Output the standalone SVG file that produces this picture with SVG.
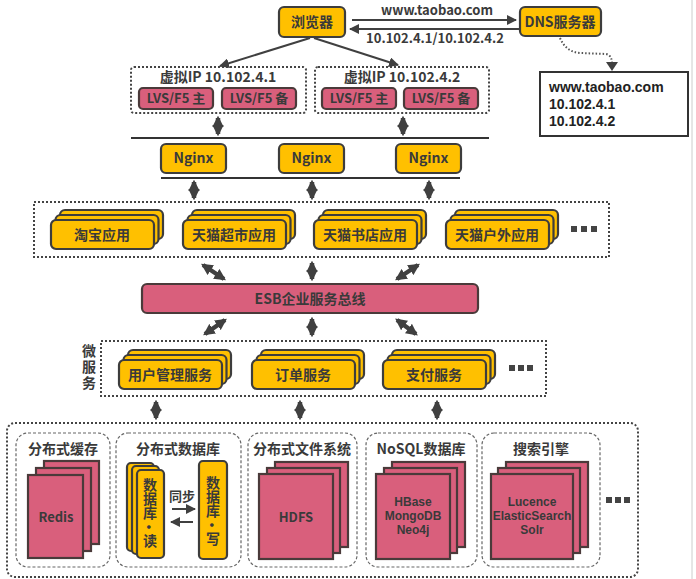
<svg xmlns="http://www.w3.org/2000/svg" width="696" height="579" viewBox="0 0 696 579">
<defs>
<style>
text{font-family:"Noto Sans CJK SC","Liberation Sans",sans-serif;font-weight:bold;fill:#3a3a3a;text-anchor:middle}
.y{fill:#FFC000;stroke:#3d3d3d;stroke-width:2.2}
.p{fill:#D95F7C;stroke:#4a3a3a;stroke-width:2.2}
.dot{fill:none;stroke:#444;stroke-width:2;stroke-dasharray:2 2}
.dash{fill:#fff;stroke:#666;stroke-width:1.2;stroke-dasharray:3 2}
.da{stroke:#404040;stroke-width:4.5;marker-start:url(#h);marker-end:url(#h)}
.ta{stroke:#404040;stroke-width:2;fill:none}
.t13{font-size:13px}
.t14{font-size:14px}
.t12{font-size:12px;font-family:"Liberation Sans",sans-serif}
.l{text-anchor:start;font-family:"Liberation Sans",sans-serif;fill:#222;font-size:14px}
.v{writing-mode:vertical-rl}
</style>
<marker id="h" viewBox="0 0 10 10" refX="8" refY="5" markerWidth="2.6" markerHeight="2.6" orient="auto-start-reverse"><path d="M0,0 L10,5 L0,10 z" fill="#404040"/></marker>
<marker id="s" viewBox="0 0 10 10" refX="9" refY="5" markerWidth="5" markerHeight="5" orient="auto-start-reverse"><path d="M0,0 L10,5 L0,10 z" fill="#404040"/></marker>
<g id="yst"><rect class="y" x="9" y="-10" width="103" height="29" rx="5"/><rect class="y" x="4.5" y="-5" width="103" height="29" rx="5"/><rect class="y" x="0" y="0" width="103" height="29" rx="5"/></g>
</defs>
<rect width="696" height="579" fill="#fff"/>
<line x1="692" y1="0" x2="692" y2="579" stroke="#ccc" stroke-width="1"/>

<g id="browser"><rect class="y" x="279" y="7" width="66" height="30" rx="5"/><text class="t14" x="312" y="27">浏览器</text></g>
<g id="dns"><rect class="y" x="520" y="7" width="81" height="29" rx="5"/><text class="t14" x="560" y="27">DNS服务器</text></g>
<g id="dnsinfo"><rect x="540" y="72" width="148" height="64" fill="#fff" stroke="#333" stroke-width="2"/>
<text class="l" x="549" y="92">www.taobao.com</text><text class="l" x="549" y="109">10.102.4.1</text><text class="l" x="549" y="126">10.102.4.2</text></g>

<g id="vip1"><rect class="dot" x="131" y="67" width="175" height="46" rx="3"/><text class="t14" x="218" y="82">虚拟IP 10.102.4.1</text>
<rect class="p" x="139" y="88" width="74" height="21" rx="4"/><text class="t13" x="176" y="103">LVS/F5 主</text>
<rect class="p" x="222" y="88" width="74" height="21" rx="4"/><text class="t13" x="259" y="103">LVS/F5 备</text></g>
<g id="vip2"><rect class="dot" x="315" y="67" width="174" height="46" rx="3"/><text class="t14" x="402" y="82">虚拟IP 10.102.4.2</text>
<rect class="p" x="322" y="88" width="74" height="21" rx="4"/><text class="t13" x="359" y="103">LVS/F5 主</text>
<rect class="p" x="404" y="88" width="74" height="21" rx="4"/><text class="t13" x="441" y="103">LVS/F5 备</text></g>

<g id="nginx1"><rect class="y" x="161" y="144" width="65" height="29" rx="5"/><text class="t14" x="193.5" y="163">Nginx</text></g>
<g id="nginx2"><rect class="y" x="279" y="144" width="65" height="29" rx="5"/><text class="t14" x="311.5" y="163">Nginx</text></g>
<g id="nginx3"><rect class="y" x="396" y="144" width="65" height="29" rx="5"/><text class="t14" x="428.5" y="163">Nginx</text></g>

<g id="apps"><rect class="dot" x="34" y="202" width="575" height="55"/>
<use href="#yst" x="51" y="220"/><text class="t14" x="102" y="240">淘宝应用</text>
<use href="#yst" x="183" y="220"/><text class="t14" x="234" y="240">天猫超市应用</text>
<use href="#yst" x="314" y="220"/><text class="t14" x="365" y="240">天猫书店应用</text>
<use href="#yst" x="446" y="220"/><text class="t14" x="497" y="240">天猫户外应用</text>
<g fill="#444"><rect x="571" y="226" width="6" height="6"/><rect x="581" y="226" width="6" height="6"/><rect x="591" y="226" width="6" height="6"/></g></g>

<g id="esb"><rect class="p" x="142" y="284" width="336" height="29" rx="5"/><text class="t14" x="310" y="304">ESB企业服务总线</text></g>

<g id="services"><rect class="dot" x="101" y="341" width="445" height="55"/>
<text class="t14 v" x="89" y="368" style="letter-spacing:2px">微服务</text>
<use href="#yst" x="119" y="360"/><text class="t14" x="170" y="380">用户管理服务</text>
<use href="#yst" x="252" y="360"/><text class="t14" x="303" y="380">订单服务</text>
<use href="#yst" x="383" y="360"/><text class="t14" x="434" y="380">支付服务</text>
<g fill="#444"><rect x="509" y="365" width="6" height="6"/><rect x="518" y="365" width="6" height="6"/><rect x="527" y="365" width="6" height="6"/></g></g>

<g id="storage"><rect class="dot" x="7" y="423" width="631" height="154" rx="8"/>
<g fill="#444"><rect x="606" y="497" width="6" height="6"/><rect x="615" y="497" width="6" height="6"/><rect x="624" y="497" width="6" height="6"/></g></g>

<g id="cache"><rect class="dash" x="16" y="433" width="94" height="134" rx="12"/><text class="t14" x="63" y="454">分布式缓存</text>
<rect class="p" x="44" y="461" width="55" height="83"/><rect class="p" x="36" y="468" width="55" height="83"/><rect class="p" x="28" y="475" width="55" height="83"/>
<text class="t13" x="56" y="522">Redis</text></g>

<g id="db"><rect class="dash" x="116" y="433" width="125" height="134" rx="12"/><text class="t14" x="178" y="454">分布式数据库</text>
<rect class="y" x="127" y="463" width="27" height="88" rx="4"/><rect class="y" x="132" y="466" width="27" height="88" rx="4"/><rect class="y" x="137" y="470" width="27" height="88" rx="4"/>
<text class="t14 v" x="150" y="513">数据库·读</text>
<rect class="y" x="199" y="461" width="28" height="98" rx="4"/>
<text class="t14 v" x="213" y="511">数据库·写</text>
<text class="t13" x="182" y="501">同步</text>
<line class="ta" x1="172" y1="509" x2="195" y2="509" marker-end="url(#s)"/>
<line class="ta" x1="193" y1="522" x2="171" y2="522" marker-end="url(#s)"/></g>

<g id="hdfs"><rect class="dash" x="248" y="433" width="109" height="134" rx="12"/><text class="t14" x="302" y="454">分布式文件系统</text>
<rect class="p" x="275" y="462" width="73" height="85"/><rect class="p" x="267" y="468" width="73" height="85"/><rect class="p" x="259" y="474" width="74" height="85"/>
<text class="t13" x="296" y="522">HDFS</text></g>

<g id="nosql"><rect class="dash" x="366" y="433" width="111" height="134" rx="12"/><text class="t14" x="421" y="454">NoSQL数据库</text>
<rect class="p" x="392" y="462" width="73" height="85"/><rect class="p" x="384" y="468" width="73" height="85"/><rect class="p" x="376" y="474" width="74" height="85"/>
<text class="t12" x="413" y="506">HBase</text><text class="t12" x="413" y="520">MongoDB</text><text class="t12" x="413" y="534">Neo4j</text></g>

<g id="search"><rect class="dash" x="482" y="433" width="118" height="134" rx="12"/><text class="t14" x="541" y="454">搜索引擎</text>
<rect class="p" x="506" y="462" width="82" height="85"/><rect class="p" x="498" y="468" width="82" height="85"/><rect class="p" x="491" y="474" width="82" height="85"/>
<text class="t12" x="532" y="506">Lucence</text><text class="t12" x="532" y="520">ElasticSearch</text><text class="t12" x="532" y="534">Solr</text></g>

<g id="connectors">
<line class="ta" x1="352" y1="20" x2="516" y2="20" marker-end="url(#s)"/>
<text class="t13" x="437" y="15">www.taobao.com</text>
<line class="ta" x1="519" y1="29" x2="350" y2="29" marker-end="url(#s)"/>
<text class="t13" x="435" y="43">10.102.4.1/10.102.4.2</text>
<path d="M560,38 Q566,52 580,53 L606,54 Q612,55 612,64" fill="none" stroke="#555" stroke-width="2" stroke-dasharray="1.5 2"/>
<path d="M606,62 L618,62 L612,71 z" fill="#404040"/>
<line class="ta" x1="310" y1="38" x2="220" y2="66" marker-end="url(#s)"/>
<line class="ta" x1="314" y1="38" x2="398" y2="65" marker-end="url(#s)"/>
<line class="da" x1="218" y1="118" x2="218" y2="134"/>
<line class="da" x1="403" y1="118" x2="403" y2="134"/>
<line x1="131" y1="138" x2="489" y2="138" stroke="#333" stroke-width="2"/>
<line x1="161" y1="178" x2="460" y2="178" stroke="#333" stroke-width="2"/>
<line class="da" x1="194" y1="182" x2="194" y2="198"/>
<line class="da" x1="312" y1="182" x2="312" y2="198"/>
<line class="da" x1="429" y1="182" x2="429" y2="198"/>
<line class="da" x1="203" y1="265" x2="224" y2="279"/>
<line class="da" x1="312" y1="263" x2="312" y2="279"/>
<line class="da" x1="418" y1="265" x2="397" y2="279"/>
<line class="da" x1="225" y1="320" x2="205" y2="334"/>
<line class="da" x1="312" y1="319" x2="312" y2="335"/>
<line class="da" x1="397" y1="320" x2="416" y2="334"/>
<line class="da" x1="156" y1="402" x2="156" y2="418"/>
<line class="da" x1="300" y1="402" x2="300" y2="418"/>
<line class="da" x1="437" y1="402" x2="437" y2="418"/>
</g>
</svg>
